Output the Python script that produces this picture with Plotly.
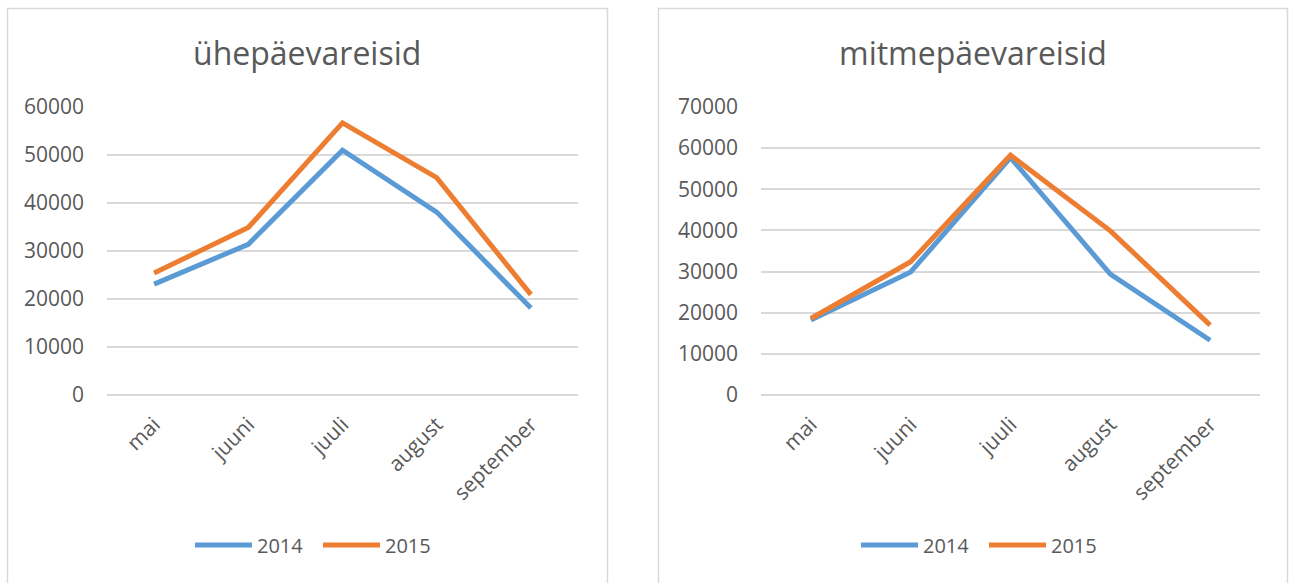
import plotly.graph_objects as go

months = ["mai", "juuni", "juuli", "august", "september"]
years = ["2014", "2015"]

# ühepäevareisid (one-day trips)
day_2014 = [23100, 31400, 51000, 38100, 18100]
day_2015 = [25400, 34900, 56700, 45300, 20900]

# mitmepäevareisid (multi-day trips)
multi_2014 = [18200, 29900, 57700, 29400, 13300]
multi_2015 = [18600, 32400, 58300, 39900, 17000]

titles = ["ühepäevareisid", "mitmepäevareisid"]

BLUE = "#5B9BD5"
ORANGE = "#ED7D31"
TXT = "#595959"
GRID = "#D9D9D9"
FONT = "Open Sans"

W, H = 1293, 583

def px(x):
    return x / W

def py(y):
    return 1 - y / H

fig = go.Figure()

fig.add_trace(go.Scatter(x=months, y=day_2014, name=years[0], mode="lines",
                         line=dict(color=BLUE, width=5), xaxis="x", yaxis="y",
                         legend="legend"))
fig.add_trace(go.Scatter(x=months, y=day_2015, name=years[1], mode="lines",
                         line=dict(color=ORANGE, width=5), xaxis="x", yaxis="y",
                         legend="legend"))
fig.add_trace(go.Scatter(x=months, y=multi_2014, name=years[0], mode="lines",
                         line=dict(color=BLUE, width=5), xaxis="x2", yaxis="y2",
                         legend="legend2"))
fig.add_trace(go.Scatter(x=months, y=multi_2015, name=years[1], mode="lines",
                         line=dict(color=ORANGE, width=5), xaxis="x2", yaxis="y2",
                         legend="legend2"))

ydom = [py(395), py(107)]

xcommon = dict(type="category", range=[-0.5, 4.5], showgrid=False, zeroline=False,
               showline=False, ticks="", tickangle=-45, automargin=False,
               ticklabelstandoff=12,
               tickfont=dict(family=FONT, size=21, color=TXT), fixedrange=True)
ycommon = dict(showgrid=True, gridcolor=GRID, gridwidth=1.5, zeroline=True,
               zerolinecolor=GRID, zerolinewidth=1.5, showline=False, ticks="",
               tickfont=dict(family=FONT, size=21, color=TXT), dtick=10000,
               tickformat="d", automargin=False,
               ticklabelstandoff=22, fixedrange=True)

legcommon = dict(orientation="h", yanchor="middle", y=py(545),
                 font=dict(family=FONT, size=20, color=TXT), itemwidth=57,
                 entrywidth=56,
                 bgcolor="rgba(0,0,0,0)", tracegroupgap=0, itemclick=False)

fig.update_layout(
    template="none",
    width=W, height=H, autosize=False,
    margin=dict(l=0, r=0, t=0, b=0, pad=0, autoexpand=False),
    paper_bgcolor="white", plot_bgcolor="white",
    font=dict(family=FONT, color=TXT),
    xaxis=dict(domain=[px(107), px(578)], anchor="y", **xcommon),
    yaxis=dict(domain=ydom, anchor="x", range=[0, 60000], **ycommon),
    xaxis2=dict(domain=[px(761), px(1260)], anchor="y2", **xcommon),
    yaxis2=dict(domain=ydom, anchor="x2", range=[0, 70000], **ycommon),
    legend=dict(x=px(318), xanchor="center", **legcommon),
    legend2=dict(x=px(984), xanchor="center", **legcommon),
    shapes=[
        dict(type="rect", xref="paper", yref="paper", x0=px(7.5), x1=px(607.5),
             y0=py(590), y1=py(8.5), line=dict(color=GRID, width=1.5)),
        dict(type="rect", xref="paper", yref="paper", x0=px(658.5), x1=px(1287.5),
             y0=py(590), y1=py(8.5), line=dict(color=GRID, width=1.5)),
    ],
    annotations=[
        dict(text=titles[0], x=px(307), y=py(52), xref="paper", yref="paper",
             xanchor="center", yanchor="middle", showarrow=False,
             font=dict(family=FONT, size=32, color=TXT)),
        dict(text=titles[1], x=px(973), y=py(52), xref="paper", yref="paper",
             xanchor="center", yanchor="middle", showarrow=False,
             font=dict(family=FONT, size=32, color=TXT)),
    ],
)

fig.write_html("out.html", config={"displayModeBar": False},
               post_script="document.body.style.margin='0';")
